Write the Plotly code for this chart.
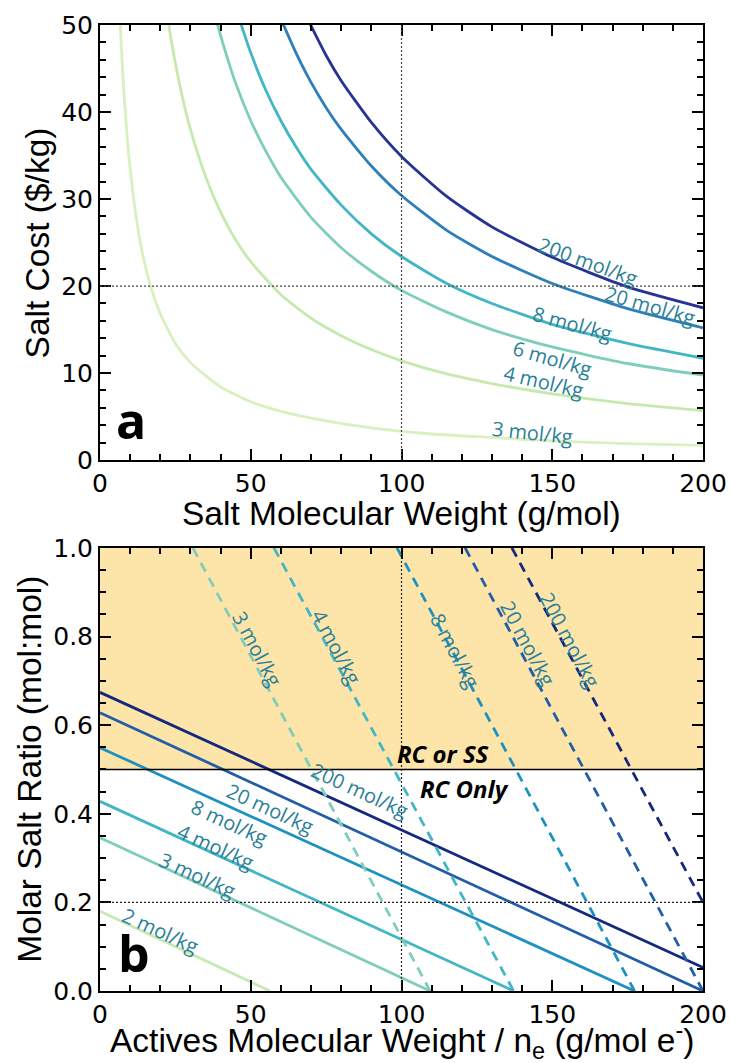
import plotly.graph_objects as go

# ---------------- Panel (a): salt cost vs salt molecular weight ----------------
top_labels = ["3 mol/kg", "4 mol/kg", "6 mol/kg", "8 mol/kg", "20 mol/kg", "200 mol/kg"]
top_colors = ["#d9f0bf", "#c7e9b0", "#7fcdbb", "#41b6c4", "#2c7fb8", "#253494"]

mw_3 = [6.5, 7, 8, 9, 10, 12, 14, 17, 20, 25, 30, 40, 50, 60, 75, 90, 110, 130, 150, 175, 200]
cost_3 = [51.5, 47.9, 41.9, 37.2, 33.5, 27.9, 23.9, 19.7, 16.8, 13.4, 11.2, 8.4, 6.7, 5.6, 4.5, 3.7, 3.0, 2.6, 2.2, 1.9, 1.7]

mw_4 = [22, 24, 27, 30, 35, 40, 45, 50, 60, 70, 80, 90, 100, 115, 130, 150, 175, 200]
cost_4 = [51.8, 47.5, 42.2, 38.0, 32.6, 28.5, 25.3, 22.8, 19.0, 16.3, 14.3, 12.7, 11.4, 9.9, 8.8, 7.6, 6.5, 5.7]

mw_6 = [38, 41, 45, 50, 55, 60, 70, 80, 90, 100, 115, 130, 150, 175, 200]
cost_6 = [51.3, 47.6, 43.3, 39.0, 35.5, 32.5, 27.9, 24.4, 21.7, 19.5, 17.0, 15.0, 13.0, 11.1, 9.75]

mw_8 = [46, 50, 55, 60, 65, 70, 80, 90, 100, 115, 130, 150, 175, 200]
cost_8 = [50.9, 46.8, 42.5, 39.0, 36.0, 33.4, 29.3, 26.0, 23.4, 20.3, 18.0, 15.6, 13.4, 11.7]

mw_20 = [60, 65, 70, 75, 80, 90, 100, 115, 130, 150, 175, 200]
cost_20 = [50.7, 46.8, 43.4, 40.5, 38.0, 33.8, 30.4, 26.4, 23.4, 20.3, 17.4, 15.2]

mw_200 = [69, 75, 80, 90, 100, 115, 130, 150, 175, 200]
cost_200 = [50.6, 46.5, 43.6, 38.8, 34.9, 30.3, 26.8, 23.3, 19.9, 17.5]

top_x = [mw_3, mw_4, mw_6, mw_8, mw_20, mw_200]
top_y = [cost_3, cost_4, cost_6, cost_8, cost_20, cost_200]

# ---------------- Panel (b): molar salt ratio vs actives MW / n_e ----------------
solid_labels = ["200 mol/kg", "20 mol/kg", "8 mol/kg", "4 mol/kg", "3 mol/kg", "2 mol/kg"]
solid_colors = ["#14297e", "#225ea8", "#1d91c0", "#41b6c4", "#7fcdbb", "#c7e9b4"]
solid_x = [[0, 200], [0, 200], [0, 177.3], [0, 137.2], [0, 109.5], [0, 56.4]]
solid_y = [[0.674, 0.053], [0.628, 0.0], [0.549, 0.0], [0.428, 0.0], [0.346, 0.0], [0.180, 0.0]]

dashed_labels = ["3 mol/kg", "4 mol/kg", "8 mol/kg", "20 mol/kg", "200 mol/kg"]
dashed_colors = ["#7fcdbb", "#41b6c4", "#1d91c0", "#225ea8", "#14297e"]
dashed_x = [[30.8, 109.5], [57.7, 137.2], [98.5, 177.3], [121.1, 200], [136.6, 200]]
dashed_y = [[1.0, 0.0], [1.0, 0.0], [1.0, 0.0], [1.0, 0.0], [1.0, 0.2]]

axis_titles = {
    "top_x": "Salt Molecular Weight (g/mol)",
    "top_y": "Salt Cost ($/kg)",
    "bot_x": "Actives Molecular Weight / n<sub>e</sub> (g/mol e<sup>-</sup>)",
    "bot_y": "Molar Salt Ratio (mol:mol)",
}

LABEL_COLOR = "#2a7f98"
LABEL_FONT = "Open Sans"
AXIS_FONT = "Liberation Sans, Arial, sans-serif"
TICK_FONT = "DejaVu Sans, sans-serif"

fig = go.Figure()

for xs, ys, c in zip(top_x, top_y, top_colors):
    fig.add_trace(go.Scatter(x=xs, y=ys, mode="lines", line=dict(color=c, width=2.8, shape="spline", smoothing=0.6),
                             xaxis="x", yaxis="y", showlegend=False, hoverinfo="skip"))

for xs, ys, c in zip(solid_x, solid_y, solid_colors):
    fig.add_trace(go.Scatter(x=xs, y=ys, mode="lines", line=dict(color=c, width=2.8),
                             xaxis="x2", yaxis="y2", showlegend=False, hoverinfo="skip"))

for xs, ys, c in zip(dashed_x, dashed_y, dashed_colors):
    fig.add_trace(go.Scatter(x=xs, y=ys, mode="lines", line=dict(color=c, width=2.8, dash="10px,7px"),
                             xaxis="x2", yaxis="y2", showlegend=False, hoverinfo="skip"))

shapes = [
    # shaded "RC or SS" region
    dict(type="rect", xref="x2", yref="y2", x0=0, x1=200, y0=0.5, y1=1.0,
         fillcolor="#fde4a9", line=dict(width=0), layer="below"),
    dict(type="line", xref="x2", yref="y2", x0=0, x1=200, y0=0.5, y1=0.5,
         line=dict(color="black", width=1.5)),
    # dotted guide lines
    dict(type="line", xref="x", yref="y", x0=100, x1=100, y0=0, y1=50,
         line=dict(color="#444", width=1.2, dash="2px,2px")),
    dict(type="line", xref="x", yref="y", x0=0, x1=200, y0=20, y1=20,
         line=dict(color="#444", width=1.2, dash="2px,2px")),
    dict(type="line", xref="x2", yref="y2", x0=100, x1=100, y0=0, y1=1,
         line=dict(color="#222", width=1.2, dash="2px,2px")),
    dict(type="line", xref="x2", yref="y2", x0=0, x1=200, y0=0.2, y1=0.2,
         line=dict(color="#222", width=1.2, dash="2px,2px")),
]

annotations = []

def label(text, x, y, angle, xr="x", yr="y", size=20, color=LABEL_COLOR, font=LABEL_FONT):
    annotations.append(dict(text=text, x=x, y=y, xref=xr, yref=yr, showarrow=False,
                            textangle=angle, font=dict(family=font, size=size, color=color),
                            xanchor="center", yanchor="middle"))

# panel (a) curve labels
top_lab_pos = [(143.4, 3.2, 6), (147.0, 9.0, 13), (150.0, 11.7, 16),
               (156.6, 15.7, 15), (182.5, 17.8, 16), (162.0, 22.8, 20)]
for t, (x, y, a) in zip(top_labels, top_lab_pos):
    label(t, x, y, a)

# panel (b) solid-line labels
solid_lab_pos = [(86.3, 0.453), (56.4, 0.412), (43.1, 0.381), (38.2, 0.325), (32.5, 0.261), (19.9, 0.137)]
for t, (x, y) in zip(solid_labels, solid_lab_pos):
    label(t, x, y, 24.5, "x2", "y2")

# panel (b) dashed-line labels
dashed_lab_pos = [(52.1, 0.773), (78.6, 0.776), (117.8, 0.769), (142.0, 0.785), (156.0, 0.792)]
for t, (x, y) in zip(dashed_labels, dashed_lab_pos):
    label(t, x, y, 62, "x2", "y2")

label("<b><i>RC or SS</i></b>", 113.8, 0.536, 0, "x2", "y2", size=24, color="black")
label("<b><i>RC Only</i></b>", 121.0, 0.457, 0, "x2", "y2", size=24, color="black")

# panel letters
label("<b>a</b>", 10.2, 4.6, 0, "x", "y", size=50, color="black")
label("<b>b</b>", 11.3, 0.085, 0, "x2", "y2", size=50, color="black")

# axis titles, placed in paper coordinates
TITLE_SIZE = 33.5
label(axis_titles["top_x"], 0.5, 0.494, 0, "paper", "paper", size=TITLE_SIZE, color="black", font=AXIS_FONT)
label(axis_titles["bot_x"], 0.5, -0.051, 0, "paper", "paper", size=TITLE_SIZE, color="black", font=AXIS_FONT)
label(axis_titles["top_y"], -0.103, 0.7748, -90, "paper", "paper", size=TITLE_SIZE, color="black", font=AXIS_FONT)
label(axis_titles["bot_y"], -0.117, 0.2295, -90, "paper", "paper", size=TITLE_SIZE, color="black", font=AXIS_FONT)

axis_common = dict(
    showline=True, linecolor="black", linewidth=2, mirror="ticks",
    ticks="inside", ticklen=11, tickwidth=2, tickcolor="black",
    showgrid=False, zeroline=False, automargin=False,
    tickfont=dict(family=TICK_FONT, size=25, color="black"),
)

fig.update_layout(
    width=730, height=1063,
    margin=dict(l=100, r=27, t=25, b=72),
    paper_bgcolor="white", plot_bgcolor="rgba(0,0,0,0)",
    shapes=shapes, annotations=annotations,
    xaxis=dict(domain=[0, 1], range=[0, 200], dtick=50, anchor="y",
               minor=dict(dtick=10, ticks="inside", ticklen=6, tickwidth=1.5, tickcolor="black"),
               **axis_common),
    yaxis=dict(domain=[0.5496, 1], range=[0, 50], dtick=10, anchor="x",
               minor=dict(dtick=2, ticks="inside", ticklen=6, tickwidth=1.5, tickcolor="black"),
               **axis_common),
    xaxis2=dict(domain=[0, 1], range=[0, 200], dtick=50, anchor="y2",
                minor=dict(dtick=10, ticks="inside", ticklen=6, tickwidth=1.5, tickcolor="black"),
                **axis_common),
    yaxis2=dict(domain=[0, 0.4587], range=[0, 1], dtick=0.2, tickformat=".1f", anchor="x2",
                minor=dict(dtick=0.05, ticks="inside", ticklen=6, tickwidth=1.5, tickcolor="black"),
                **axis_common),
)

fig.write_html("out.html")
